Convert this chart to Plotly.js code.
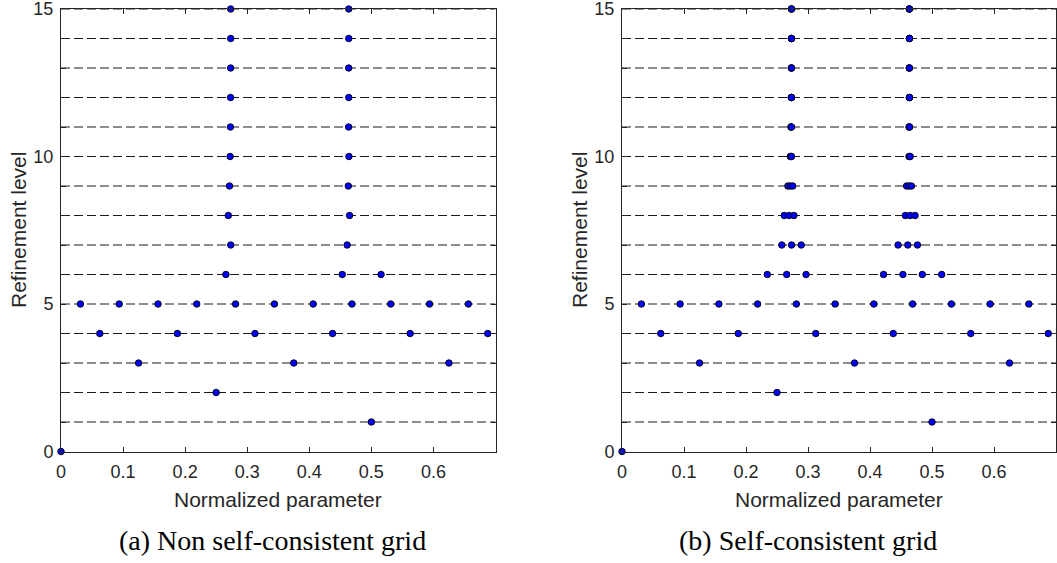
<!DOCTYPE html>
<html>
<head>
<meta charset="utf-8">
<script src="https://cdn.plot.ly/plotly-3.0.1.min.js"></script>
<style>html,body{margin:0;padding:0;background:#fff}#chart{width:1057px;height:563px}</style>
</head>
<body>
<div id="chart"></div>
<script>
// ---- data ----
const gridLevels = [1, 2, 3, 4, 5, 6, 7, 8, 9, 10, 11, 12, 13, 14, 15];
const xRange = [0, 0.7];
const yRange = [0, 15];
const xTickVals = [0, 0.1, 0.2, 0.3, 0.4, 0.5, 0.6];
const xTickText = ['0', '0.1', '0.2', '0.3', '0.4', '0.5', '0.6'];
const yTickVals = [0, 1, 2, 3, 4, 5, 6, 7, 8, 9, 10, 11, 12, 13, 14, 15];
const yTickText = ['0', '', '', '', '', '5', '', '', '', '', '10', '', '', '', '', '15'];

// (a) Non self-consistent grid
const nscX = [
  0,
  0.5,
  0.25,
  0.125, 0.375, 0.625,
  0.0625, 0.1875, 0.3125, 0.4375, 0.5625, 0.6875,
  0.03125, 0.09375, 0.15625, 0.21875, 0.28125, 0.34375, 0.40625, 0.46875, 0.53125, 0.59375, 0.65625,
  0.265625, 0.453125, 0.515625,
  0.2734375, 0.4609375,
  0.26953125, 0.46484375,
  0.271484375, 0.462890625,
  0.2724609, 0.4638672,
  0.2729492, 0.4633789,
  0.2731934, 0.4636230,
  0.2733154, 0.4635010,
  0.2733765, 0.4635620,
  0.2734070, 0.4635315
];
const nscY = [
  0,
  1,
  2,
  3, 3, 3,
  4, 4, 4, 4, 4, 4,
  5, 5, 5, 5, 5, 5, 5, 5, 5, 5, 5,
  6, 6, 6,
  7, 7,
  8, 8,
  9, 9,
  10, 10,
  11, 11,
  12, 12,
  13, 13,
  14, 14,
  15, 15
];

// (b) Self-consistent grid
const scX = [
  0,
  0.5,
  0.25,
  0.125, 0.375, 0.625,
  0.0625, 0.1875, 0.3125, 0.4375, 0.5625, 0.6875,
  0.03125, 0.09375, 0.15625, 0.21875, 0.28125, 0.34375, 0.40625, 0.46875, 0.53125, 0.59375, 0.65625,
  0.234375, 0.265625, 0.296875, 0.421875, 0.453125, 0.484375, 0.515625,
  0.2578125, 0.2734375, 0.2890625, 0.4453125, 0.4609375, 0.4765625,
  0.26171875, 0.26953125, 0.27734375, 0.45703125, 0.46484375, 0.47265625,
  0.267578125, 0.271484375, 0.275390625, 0.458984375, 0.462890625, 0.466796875,
  0.2714844, 0.2724609, 0.2734375, 0.4628906, 0.4638672, 0.4648438,
  0.2724609, 0.2729492, 0.2734375, 0.4628906, 0.4633789, 0.4638672,
  0.2729492, 0.2731934, 0.2734375, 0.4633789, 0.4636230, 0.4638672,
  0.2731934, 0.2733154, 0.2734375, 0.4633789, 0.4635010, 0.4636230,
  0.2733154, 0.2733765, 0.2734375, 0.4635010, 0.4635620, 0.4636230,
  0.2733765, 0.2734070, 0.2734375, 0.4635010, 0.4635315, 0.4635620
];
const scY = [
  0,
  1,
  2,
  3, 3, 3,
  4, 4, 4, 4, 4, 4,
  5, 5, 5, 5, 5, 5, 5, 5, 5, 5, 5,
  6, 6, 6, 6, 6, 6, 6,
  7, 7, 7, 7, 7, 7,
  8, 8, 8, 8, 8, 8,
  9, 9, 9, 9, 9, 9,
  10, 10, 10, 10, 10, 10,
  11, 11, 11, 11, 11, 11,
  12, 12, 12, 12, 12, 12,
  13, 13, 13, 13, 13, 13,
  14, 14, 14, 14, 14, 14,
  15, 15, 15, 15, 15, 15
];

const xTitle = 'Normalized parameter';
const yTitle = 'Refinement level';
const captions = ['(a) Non self-consistent grid', '(b) Self-consistent grid'];

// ---- build ----
const W = 1057, H = 563;
const axColor = '#262626';
const sans = 'Liberation Sans, Arial, Helvetica, sans-serif';
const serif = 'Liberation Serif, Times New Roman, serif';

function dashedTrace(xa, ya) {
  const x = [], y = [];
  gridLevels.forEach(l => { x.push(xRange[0], xRange[1], null); y.push(l, l, null); });
  return { x, y, xaxis: xa, yaxis: ya, mode: 'lines', type: 'scatter', hoverinfo: 'skip',
           line: { color: '#000000', width: 0.9, dash: '9px,4px' } };
}
function pointTrace(x, y, xa, ya) {
  return { x, y, xaxis: xa, yaxis: ya, mode: 'markers', type: 'scatter', cliponaxis: false,
           marker: { color: '#0000ff', size: 6.5, line: { color: '#000000', width: 0.9 } } };
}

const data = [
  dashedTrace('x', 'y'), pointTrace(nscX, nscY, 'x', 'y'),
  dashedTrace('x2', 'y2'), pointTrace(scX, scY, 'x2', 'y2')
];

const yDom = [1 - 451.5 / H, 1 - 9 / H];
const xDom1 = [61 / W, 495.5 / W];
const xDom2 = [622 / W, 1056 / W];

function xAxis(dom, anchor) {
  return { domain: dom, anchor, range: xRange, tickvals: xTickVals, ticktext: xTickText,
           ticks: 'inside', ticklen: 5, tickwidth: 1, tickcolor: axColor, mirror: 'ticks',
           showline: true, linecolor: axColor, linewidth: 1, showgrid: false, zeroline: false,
           ticklabelstandoff: 4, ticklabeloverflow: 'allow',
           tickfont: { family: sans, size: 18, color: axColor }, fixedrange: true };
}
function yAxis(anchor) {
  return { domain: yDom, anchor, range: yRange, tickvals: yTickVals, ticktext: yTickText,
           ticks: 'inside', ticklen: 5, tickwidth: 1, tickcolor: axColor, mirror: 'ticks',
           showline: true, linecolor: axColor, linewidth: 1, showgrid: false, zeroline: false,
           ticklabelstandoff: 3, ticklabeloverflow: 'allow',
           tickfont: { family: sans, size: 18, color: axColor }, fixedrange: true };
}

const pyc = v => 1 - v / H;
const annotations = [
  { text: xTitle, xref: 'paper', yref: 'paper', x: (xDom1[0] + xDom1[1]) / 2, y: pyc(499),
    showarrow: false, xanchor: 'center', yanchor: 'middle', font: { family: sans, size: 21, color: axColor } },
  { text: xTitle, xref: 'paper', yref: 'paper', x: (xDom2[0] + xDom2[1]) / 2, y: pyc(499),
    showarrow: false, xanchor: 'center', yanchor: 'middle', font: { family: sans, size: 21, color: axColor } },
  { text: yTitle, xref: 'paper', yref: 'paper', x: 18 / W, y: pyc(230), textangle: -90,
    showarrow: false, xanchor: 'center', yanchor: 'middle', font: { family: sans, size: 21, color: axColor } },
  { text: yTitle, xref: 'paper', yref: 'paper', x: 579 / W, y: pyc(230), textangle: -90,
    showarrow: false, xanchor: 'center', yanchor: 'middle', font: { family: sans, size: 21, color: axColor } },
  { text: captions[0], xref: 'paper', yref: 'paper', x: 272 / W, y: pyc(540),
    showarrow: false, xanchor: 'center', yanchor: 'middle', font: { family: serif, size: 28, color: '#000000' } },
  { text: captions[1], xref: 'paper', yref: 'paper', x: 808 / W, y: pyc(540),
    showarrow: false, xanchor: 'center', yanchor: 'middle', font: { family: serif, size: 28, color: '#000000' } }
];

const layout = {
  width: W, height: H, margin: { l: 0, r: 0, t: 0, b: 0 }, showlegend: false,
  paper_bgcolor: '#ffffff', plot_bgcolor: '#ffffff',
  xaxis: xAxis(xDom1, 'y'), yaxis: yAxis('x'),
  xaxis2: xAxis(xDom2, 'y2'), yaxis2: yAxis('x2'),
  annotations
};

Plotly.newPlot('chart', data, layout, { staticPlot: true, displayModeBar: false });
</script>
</body>
</html>
